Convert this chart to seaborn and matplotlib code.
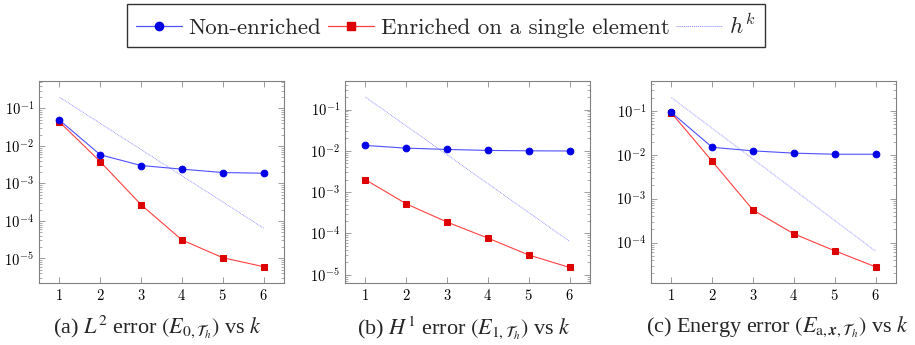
import matplotlib
matplotlib.use("Agg")
import matplotlib.pyplot as plt
import seaborn as sns
import pandas as pd
from matplotlib.lines import Line2D
from matplotlib.ticker import LogLocator, NullFormatter, FixedLocator

sns.set_style("ticks")
plt.rcParams['font.family'] = ['cmr10', 'DejaVu Serif']
plt.rcParams['mathtext.fontset'] = 'cm'
plt.rcParams['axes.formatter.use_mathtext'] = True

k = [1, 2, 3, 4, 5, 6]
hk = [0.2, 0.04, 0.008, 0.0016, 3.2e-4, 6.4e-5]

l2_non = [0.049, 5.8e-3, 3.0e-3, 2.4e-3, 1.95e-3, 1.87e-3]
l2_enr = [0.044, 3.8e-3, 2.7e-4, 3.1e-5, 1.04e-5, 6.0e-6]

h1_non = [0.0135, 0.0116, 0.0108, 0.0102, 0.0100, 0.0099]
h1_enr = [2.0e-3, 5.2e-4, 1.88e-4, 7.7e-5, 3.0e-5, 1.5e-5]

en_non = [0.092, 0.0148, 0.0123, 0.0109, 0.0103, 0.0103]
en_enr = [0.090, 7.1e-3, 5.5e-4, 1.58e-4, 6.5e-5, 2.8e-5]

captions = [r"(a) $L^2$ error $(E_{0,\mathcal{T}_h})$ vs $k$",
            r"(b) $H^1$ error $(E_{1,\mathcal{T}_h})$ vs $k$",
            r"(c) Energy error $(E_{\mathrm{a},\boldsymbol{x},\mathcal{T}_h})$ vs $k$"]
legend_labels = ["Non-enriched", "Enriched on a single element", r"$h^k$"]

panels = [(l2_non, l2_enr, (2.2e-6, 0.54)),
          (h1_non, h1_enr, (6.3e-6, 0.49)),
          (en_non, en_enr, (1.2e-5, 0.48))]

BLUE = "#0000e6"
RED = "#dd0000"
LBLUE = "#5050ff"
LRED = "#ff4040"

fig = plt.figure(figsize=(9.15, 3.45), dpi=100)
lefts = [39/915, 345/915, 651/915]
bottom = 1 - 283/345
height = (283 - 81)/345
width = 245/915
cap_x = [158/915, 464/915, 777/915]

for i, (non, enr, ylim) in enumerate(panels):
    ax = fig.add_axes([lefts[i], bottom, width, height])
    df = pd.DataFrame({"k": k, "hk": hk, "non": non, "enr": enr})
    sns.lineplot(data=df, x="k", y="hk", ax=ax, color="#8080ff", lw=0.6,
                 linestyle=(0, (1, 1)), zorder=1)
    sns.lineplot(data=df, x="k", y="non", ax=ax, color=LBLUE, lw=0.8,
                 marker="o", markersize=4.8, markerfacecolor=BLUE,
                 markeredgecolor=BLUE, zorder=3)
    sns.lineplot(data=df, x="k", y="enr", ax=ax, color=LRED, lw=0.8,
                 marker="s", markersize=4.8, markerfacecolor=RED,
                 markeredgecolor=RED, zorder=2)
    ax.set_yscale("log")
    ax.set_ylim(*ylim)
    ax.set_xlim(0.5, 6.5)
    ax.xaxis.set_major_locator(FixedLocator(k))
    ax.yaxis.set_major_locator(LogLocator(base=10, numticks=20))
    ax.yaxis.set_minor_locator(LogLocator(base=10, subs=range(2, 10), numticks=20))
    ax.yaxis.set_minor_formatter(NullFormatter())
    ax.set_xlabel("")
    ax.set_ylabel("")
    for s in ax.spines.values():
        s.set_visible(True)
        s.set_color("0.5")
        s.set_linewidth(0.8)
    ax.tick_params(which="both", direction="in", top=True, right=True,
                   color="0.55", labelsize=10.5, labelcolor="black")
    ax.tick_params(which="major", length=4, width=0.6)
    ax.tick_params(which="minor", length=2, width=0.5)
    fig.text(cap_x[i], 0.052, captions[i], ha="center", va="center", fontsize=16,
             family="Liberation Serif", math_fontfamily="stix")

handles = [Line2D([], [], color=LBLUE, lw=0.9, marker="o", markersize=6,
                  markerfacecolor=BLUE, markeredgecolor=BLUE),
           Line2D([], [], color=LRED, lw=0.9, marker="s", markersize=6,
                  markerfacecolor=RED, markeredgecolor=RED),
           Line2D([], [], color="#8080ff", lw=0.7, linestyle=(0, (1, 1)))]
leg = fig.legend(handles, legend_labels, loc="upper center",
                 bbox_to_anchor=(0.487, 0.995), ncol=3, fontsize=16.5,
                 frameon=True, fancybox=False, edgecolor="black",
                 handlelength=2.0, handletextpad=0.3, columnspacing=0.3,
                 borderpad=0.4, borderaxespad=0.1)
leg.get_frame().set_linewidth(1.0)

fig.savefig("out.png", dpi=100)
